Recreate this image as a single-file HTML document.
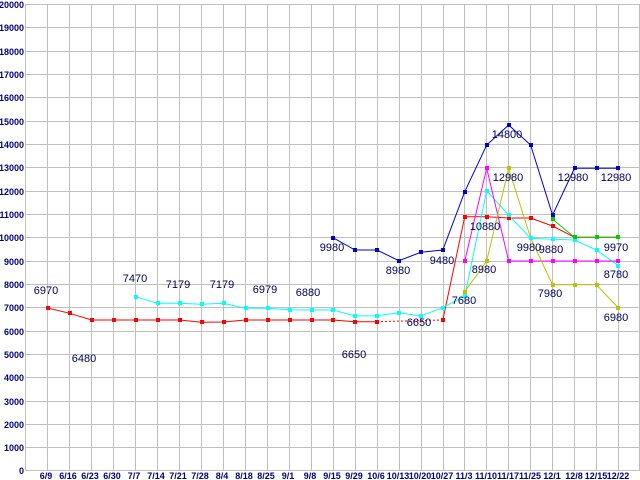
<!DOCTYPE html>
<html><head><meta charset="utf-8"><style>
html,body{margin:0;padding:0;background:#fff;}
svg{display:block;}
.l{font-family:"Liberation Sans",sans-serif;font-size:11px;fill:#000060;text-anchor:middle;}
.ax{font-family:"Liberation Sans",sans-serif;font-size:9px;font-weight:bold;fill:#000080;}
</style></head><body>
<svg width="640" height="480" viewBox="0 0 640 480" xmlns="http://www.w3.org/2000/svg">
<rect width="640" height="480" fill="#fff"/>
<g stroke="#c0c0c0" stroke-width="1" shape-rendering="crispEdges">
<line x1="25" y1="4.5" x2="640" y2="4.5"/><line x1="25" y1="27.5" x2="640" y2="27.5"/><line x1="25" y1="51.5" x2="640" y2="51.5"/><line x1="25" y1="74.5" x2="640" y2="74.5"/><line x1="25" y1="97.5" x2="640" y2="97.5"/><line x1="25" y1="121.5" x2="640" y2="121.5"/><line x1="25" y1="144.5" x2="640" y2="144.5"/><line x1="25" y1="167.5" x2="640" y2="167.5"/><line x1="25" y1="191.5" x2="640" y2="191.5"/><line x1="25" y1="214.5" x2="640" y2="214.5"/><line x1="25" y1="237.5" x2="640" y2="237.5"/><line x1="25" y1="261.5" x2="640" y2="261.5"/><line x1="25" y1="284.5" x2="640" y2="284.5"/><line x1="25" y1="307.5" x2="640" y2="307.5"/><line x1="25" y1="331.5" x2="640" y2="331.5"/><line x1="25" y1="354.5" x2="640" y2="354.5"/><line x1="25" y1="377.5" x2="640" y2="377.5"/><line x1="25" y1="401.5" x2="640" y2="401.5"/><line x1="25" y1="424.5" x2="640" y2="424.5"/><line x1="25" y1="447.5" x2="640" y2="447.5"/><line x1="25" y1="470.5" x2="640" y2="470.5"/>
<line x1="25.5" y1="4" x2="25.5" y2="471"/><line x1="47.5" y1="4" x2="47.5" y2="471"/><line x1="69.5" y1="4" x2="69.5" y2="471"/><line x1="91.5" y1="4" x2="91.5" y2="471"/><line x1="113.5" y1="4" x2="113.5" y2="471"/><line x1="135.5" y1="4" x2="135.5" y2="471"/><line x1="157.5" y1="4" x2="157.5" y2="471"/><line x1="179.5" y1="4" x2="179.5" y2="471"/><line x1="201.5" y1="4" x2="201.5" y2="471"/><line x1="223.5" y1="4" x2="223.5" y2="471"/><line x1="245.5" y1="4" x2="245.5" y2="471"/><line x1="267.5" y1="4" x2="267.5" y2="471"/><line x1="289.5" y1="4" x2="289.5" y2="471"/><line x1="311.5" y1="4" x2="311.5" y2="471"/><line x1="333.5" y1="4" x2="333.5" y2="471"/><line x1="355.5" y1="4" x2="355.5" y2="471"/><line x1="377.5" y1="4" x2="377.5" y2="471"/><line x1="399.5" y1="4" x2="399.5" y2="471"/><line x1="421.5" y1="4" x2="421.5" y2="471"/><line x1="443.5" y1="4" x2="443.5" y2="471"/><line x1="464.5" y1="4" x2="464.5" y2="471"/><line x1="486.5" y1="4" x2="486.5" y2="471"/><line x1="508.5" y1="4" x2="508.5" y2="471"/><line x1="530.5" y1="4" x2="530.5" y2="471"/><line x1="552.5" y1="4" x2="552.5" y2="471"/><line x1="574.5" y1="4" x2="574.5" y2="471"/><line x1="596.5" y1="4" x2="596.5" y2="471"/><line x1="618.5" y1="4" x2="618.5" y2="471"/><line x1="639.5" y1="4" x2="639.5" y2="471"/>
</g>
<g class="ax" text-anchor="end">
<text x="24" y="8">20000</text><text x="24" y="31">19000</text><text x="24" y="55">18000</text><text x="24" y="78">17000</text><text x="24" y="101">16000</text><text x="24" y="125">15000</text><text x="24" y="148">14000</text><text x="24" y="171">13000</text><text x="24" y="195">12000</text><text x="24" y="218">11000</text><text x="24" y="241">10000</text><text x="24" y="265">9000</text><text x="24" y="288">8000</text><text x="24" y="311">7000</text><text x="24" y="335">6000</text><text x="24" y="358">5000</text><text x="24" y="381">4000</text><text x="24" y="405">3000</text><text x="24" y="428">2000</text><text x="24" y="451">1000</text><text x="24" y="474">0</text>
</g>
<g class="ax" text-anchor="middle">
<text x="46" y="479">6/9</text><text x="68" y="479">6/16</text><text x="90" y="479">6/23</text><text x="112" y="479">6/30</text><text x="134" y="479">7/7</text><text x="156" y="479">7/14</text><text x="178" y="479">7/21</text><text x="200" y="479">7/28</text><text x="222" y="479">8/4</text><text x="244" y="479">8/18</text><text x="266" y="479">8/25</text><text x="288" y="479">9/1</text><text x="310" y="479">9/8</text><text x="332" y="479">9/15</text><text x="354" y="479">9/29</text><text x="376" y="479">10/6</text><text x="398" y="479">10/13</text><text x="420" y="479">10/20</text><text x="442" y="479">10/27</text><text x="464" y="479">11/3</text><text x="486" y="479">11/10</text><text x="508" y="479">11/17</text><text x="530" y="479">11/25</text><text x="552" y="479">12/1</text><text x="574" y="479">12/8</text><text x="596" y="479">12/15</text><text x="618" y="479">12/22</text>
</g>
<g fill="none" stroke-width="1">
<polyline stroke="#ff0000" points="47.7,308 69.65,313.3 91.6,320 113.55,320 135.5,320 157.45,320 179.4,320 201.35,322.3 223.3,322 245.25,320 267.2,320 289.15,320 311.1,320 333.05,320 355,321.7 376.95,321.7"/>
<polyline stroke="#ff0000" stroke-dasharray="2,2" points="376.95,321.7 442.8,320"/>
<polyline stroke="#ff0000" points="442.8,320 464.75,216.7 486.7,216.7 508.65,218 530.6,218 552.55,226 574.5,237.3 596.45,237.3 618.4,237.3"/>
<polyline stroke="#00ffff" points="135.5,296.7 157.45,303.3 179.4,303.3 201.35,304.3 223.3,303.3 245.25,308.3 267.2,308.3 289.15,309.7 311.1,310 333.05,310 355,316 376.95,315.7 398.9,312.7 420.85,316 442.8,307.7 464.75,296 486.7,190.7 508.65,215 530.6,238.3 552.55,239.3 574.5,240 596.45,250 618.4,265.7"/>
<polyline stroke="#0000cc" points="333.05,237.7 355,250 376.95,250 398.9,260.7 420.85,252.3 442.8,250 464.75,191.7 486.7,145 508.65,125 530.6,145 552.55,215 574.5,168.3 596.45,168.3 618.4,168.3"/>
<polyline stroke="#ff00ff" points="464.75,261 486.7,168.3 508.65,261 530.6,261 552.55,261 574.5,261 596.45,261 618.4,261"/>
<polyline stroke="#c0c000" points="464.75,291.7 486.7,261 508.65,168.3 530.6,238 552.55,284.7 574.5,284.7 596.45,284.7 618.4,308"/>
<polyline stroke="#00cc00" points="552.55,219.3 574.5,237.3 596.45,237.3 618.4,237.3"/>
</g>
<g fill="#ff0000">
<rect x="46" y="306" width="4" height="4"/><rect x="68" y="311" width="4" height="4"/><rect x="90" y="318" width="4" height="4"/><rect x="112" y="318" width="4" height="4"/><rect x="134" y="318" width="4" height="4"/><rect x="156" y="318" width="4" height="4"/><rect x="178" y="318" width="4" height="4"/><rect x="200" y="320" width="4" height="4"/><rect x="222" y="320" width="4" height="4"/><rect x="244" y="318" width="4" height="4"/><rect x="266" y="318" width="4" height="4"/><rect x="288" y="318" width="4" height="4"/><rect x="310" y="318" width="4" height="4"/><rect x="331" y="318" width="4" height="4"/><rect x="353" y="320" width="4" height="4"/><rect x="375" y="320" width="4" height="4"/><rect x="441" y="318" width="4" height="4"/><rect x="463" y="215" width="4" height="4"/><rect x="485" y="215" width="4" height="4"/><rect x="507" y="216" width="4" height="4"/><rect x="529" y="216" width="4" height="4"/><rect x="551" y="224" width="4" height="4"/>
</g>
<g fill="#00ffff">
<rect x="134" y="295" width="4" height="4"/><rect x="156" y="301" width="4" height="4"/><rect x="178" y="301" width="4" height="4"/><rect x="200" y="302" width="4" height="4"/><rect x="222" y="301" width="4" height="4"/><rect x="244" y="306" width="4" height="4"/><rect x="266" y="306" width="4" height="4"/><rect x="288" y="308" width="4" height="4"/><rect x="310" y="308" width="4" height="4"/><rect x="331" y="308" width="4" height="4"/><rect x="353" y="314" width="4" height="4"/><rect x="375" y="314" width="4" height="4"/><rect x="397" y="311" width="4" height="4"/><rect x="419" y="314" width="4" height="4"/><rect x="441" y="306" width="4" height="4"/><rect x="463" y="294" width="4" height="4"/><rect x="485" y="189" width="4" height="4"/><rect x="507" y="213" width="4" height="4"/><rect x="529" y="236" width="4" height="4"/><rect x="551" y="237" width="4" height="4"/><rect x="573" y="238" width="4" height="4"/><rect x="595" y="248" width="4" height="4"/><rect x="616" y="264" width="4" height="4"/>
</g>
<g fill="#0000cc">
<rect x="331" y="236" width="4" height="4"/><rect x="353" y="248" width="4" height="4"/><rect x="375" y="248" width="4" height="4"/><rect x="397" y="259" width="4" height="4"/><rect x="419" y="250" width="4" height="4"/><rect x="441" y="248" width="4" height="4"/><rect x="463" y="190" width="4" height="4"/><rect x="485" y="143" width="4" height="4"/><rect x="507" y="123" width="4" height="4"/><rect x="529" y="143" width="4" height="4"/><rect x="551" y="213" width="4" height="4"/><rect x="573" y="166" width="4" height="4"/><rect x="595" y="166" width="4" height="4"/><rect x="616" y="166" width="4" height="4"/>
</g>
<g fill="#ff00ff">
<rect x="463" y="259" width="4" height="4"/><rect x="485" y="166" width="4" height="4"/><rect x="507" y="259" width="4" height="4"/><rect x="529" y="259" width="4" height="4"/><rect x="551" y="259" width="4" height="4"/><rect x="573" y="259" width="4" height="4"/><rect x="595" y="259" width="4" height="4"/><rect x="616" y="259" width="4" height="4"/>
</g>
<g fill="#c0c000">
<rect x="463" y="290" width="4" height="4"/><rect x="485" y="259" width="4" height="4"/><rect x="507" y="166" width="4" height="4"/><rect x="551" y="283" width="4" height="4"/><rect x="573" y="283" width="4" height="4"/><rect x="595" y="283" width="4" height="4"/><rect x="616" y="306" width="4" height="4"/>
</g>
<g fill="#00cc00">
<rect x="551" y="217" width="4" height="4"/><rect x="573" y="235" width="4" height="4"/><rect x="595" y="235" width="4" height="4"/><rect x="616" y="235" width="4" height="4"/>
</g>
<g class="l">
<text x="46" y="294">6970</text><text x="84" y="362">6480</text><text x="135" y="282">7470</text><text x="178" y="288">7179</text><text x="222" y="288">7179</text><text x="265" y="293">6979</text><text x="308" y="296">6880</text>
<text x="332" y="251">9980</text><text x="398" y="274">8980</text><text x="442" y="264">9480</text><text x="354" y="358">6650</text><text x="419" y="326">6650</text><text x="464" y="304">7680</text>
<text x="507" y="138">14800</text><text x="508" y="181">12980</text><text x="485" y="230">10880</text><text x="573" y="181">12980</text><text x="616" y="181">12980</text>
<text x="529" y="251">9980</text><text x="551" y="253">9880</text><text x="616" y="251">9970</text><text x="484" y="273">8980</text><text x="550" y="297">7980</text><text x="616" y="278">8780</text><text x="616" y="321">6980</text>
</g>
</svg>
</body></html>
